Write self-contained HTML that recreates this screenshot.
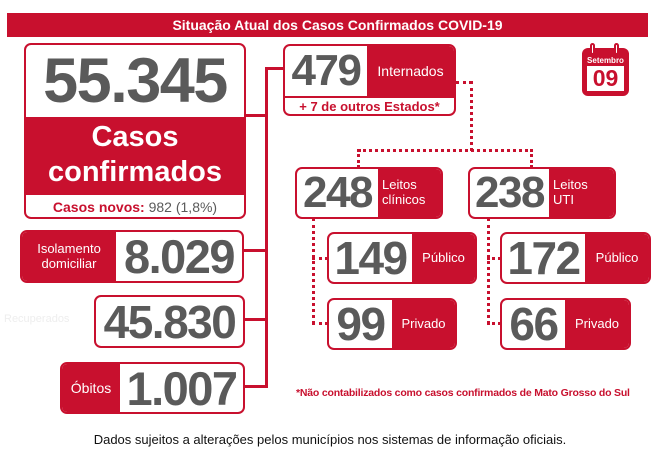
<!DOCTYPE html>
<html><head><meta charset="utf-8"><style>
body{margin:0;width:660px;height:462px;background:#fff;position:relative;overflow:hidden;font-family:"Liberation Sans",sans-serif}
.a{position:absolute;box-sizing:border-box}
.box{border:2px solid #c8102e;border-radius:7px;overflow:hidden;background:#fff}
.red{background:#c8102e;color:#fff}
.n{color:#5a5a5a;font-weight:bold;display:flex;align-items:center;justify-content:center;letter-spacing:-1.5px}
.l{color:#fff;display:flex;align-items:center;justify-content:center;text-align:center;line-height:1.15}
.ln{background:#c8102e}
.dv{border-left:3px dotted #c8102e}
.dh{border-top:3px dotted #c8102e}
</style></head><body>
<div class="a red" style="left:7px;top:13px;width:641px;height:24px;font-weight:bold;font-size:14px;display:flex;align-items:center;justify-content:center;padding-left:20px">Situação Atual dos Casos Confirmados COVID-19</div>

<div class="a box" style="left:24px;top:43px;width:222px;height:176px">
 <div class="a n" style="left:0;top:0;width:218px;height:72px;font-size:63px">55.345</div>
 <div class="a red" style="left:0;top:72px;width:218px;height:78px;font-weight:bold;font-size:29px;line-height:35px;text-align:center;padding-top:3px">Casos<br>confirmados</div>
 <div class="a" style="left:0;top:150px;width:218px;height:24px;font-size:14px;font-weight:bold;color:#c8102e;text-align:center;line-height:24px">Casos novos: <span style="color:#5a5a5a;font-weight:normal">982 (1,8%)</span></div>
</div>

<div class="a box" style="left:20px;top:230px;width:224px;height:53px">
 <div class="a red l" style="left:0;top:0;width:94px;height:49px;font-size:13px">Isolamento<br>domiciliar</div>
 <div class="a n" style="left:94px;top:0;width:126px;height:49px;font-size:47px">8.029</div>
</div>
<div class="a" style="left:4px;top:313px;font-size:11px;color:#eee">Recuperados</div>
<div class="a box" style="left:94px;top:295px;width:151px;height:53px">
 <div class="a n" style="left:0;top:0;width:147px;height:49px;font-size:46px">45.830</div>
</div>
<div class="a box" style="left:60px;top:362px;width:185px;height:52px">
 <div class="a red l" style="left:0;top:0;width:58px;height:48px;font-size:14px">Óbitos</div>
 <div class="a n" style="left:58px;top:0;width:123px;height:48px;font-size:47px">1.007</div>
</div>

<div class="a ln" style="left:265px;top:67px;width:3px;height:321px"></div>
<div class="a ln" style="left:265px;top:67px;width:19px;height:3px"></div>
<div class="a ln" style="left:245px;top:114px;width:21px;height:3px"></div>
<div class="a ln" style="left:244px;top:249px;width:22px;height:3px"></div>
<div class="a ln" style="left:245px;top:318px;width:21px;height:3px"></div>
<div class="a ln" style="left:245px;top:385px;width:21px;height:3px"></div>

<div class="a box" style="left:283px;top:44px;width:173px;height:72px">
 <div class="a n" style="left:0;top:0;width:82px;height:50px;font-size:44px">479</div>
 <div class="a red l" style="left:82px;top:0;width:87px;height:50px;font-size:14px">Internados</div>
 <div class="a" style="left:0;top:50px;width:169px;height:2px;background:#c8102e"></div>
 <div class="a" style="left:0;top:52px;width:169px;height:16px;font-size:13px;font-weight:bold;color:#c8102e;text-align:center;line-height:17px">+ 7 de outros Estados*</div>
</div>

<div class="a red" style="left:582px;top:48px;width:47px;height:48px;border-radius:6px"></div>
<div class="a" style="left:590px;top:43px;width:5px;height:12px;border:2px solid #c8102e;border-radius:3px;background:#fff"></div>
<div class="a" style="left:614px;top:43px;width:5px;height:12px;border:2px solid #c8102e;border-radius:3px;background:#fff"></div>
<div class="a" style="left:582px;top:56px;width:47px;text-align:center;color:#fff;font-weight:bold;font-size:8px">Setembro</div>
<div class="a" style="left:587px;top:66px;width:37px;height:25px;background:#fff;color:#c8102e;font-weight:bold;font-size:23px;line-height:25px;text-align:center">09</div>

<div class="a dh" style="left:456px;top:81px;width:16px"></div>
<div class="a dv" style="left:470px;top:81px;height:70px"></div>
<div class="a dh" style="left:358px;top:149px;width:175px"></div>
<div class="a dv" style="left:357px;top:149px;height:19px"></div>
<div class="a dv" style="left:530px;top:149px;height:19px"></div>
<div class="a dv" style="left:312px;top:218px;height:106px"></div>
<div class="a dh" style="left:312px;top:257px;width:16px"></div>
<div class="a dh" style="left:312px;top:322px;width:16px"></div>
<div class="a dv" style="left:487px;top:218px;height:106px"></div>
<div class="a dh" style="left:487px;top:257px;width:14px"></div>
<div class="a dh" style="left:487px;top:322px;width:14px"></div>

<div class="a box" style="left:295px;top:167px;width:148px;height:52px">
 <div class="a n" style="left:0;top:0;width:81px;height:48px;font-size:44px">248</div>
 <div class="a red l" style="left:81px;top:0;width:63px;height:48px;font-size:13px;justify-content:flex-start;text-align:left;padding-left:4px">Leitos<br>clínicos</div>
</div>
<div class="a box" style="left:468px;top:167px;width:148px;height:52px">
 <div class="a n" style="left:0;top:0;width:79px;height:48px;font-size:44px">238</div>
 <div class="a red l" style="left:79px;top:0;width:65px;height:48px;font-size:13px;justify-content:flex-start;text-align:left;padding-left:4px">Leitos<br>UTI</div>
</div>
<div class="a box" style="left:327px;top:232px;width:150px;height:52px">
 <div class="a n" style="left:0;top:0;width:83px;height:48px;font-size:46px">149</div>
 <div class="a red l" style="left:83px;top:0;width:63px;height:48px;font-size:13px">Público</div>
</div>
<div class="a box" style="left:327px;top:298px;width:130px;height:52px">
 <div class="a n" style="left:0;top:0;width:63px;height:48px;font-size:46px">99</div>
 <div class="a red l" style="left:63px;top:0;width:63px;height:48px;font-size:13px">Privado</div>
</div>
<div class="a box" style="left:500px;top:232px;width:151px;height:52px">
 <div class="a n" style="left:0;top:0;width:83px;height:48px;font-size:46px">172</div>
 <div class="a red l" style="left:83px;top:0;width:64px;height:48px;font-size:13px">Público</div>
</div>
<div class="a box" style="left:500px;top:298px;width:131px;height:52px">
 <div class="a n" style="left:0;top:0;width:63px;height:48px;font-size:46px">66</div>
 <div class="a red l" style="left:63px;top:0;width:64px;height:48px;font-size:13px">Privado</div>
</div>

<div class="a" style="left:296px;top:387px;width:336px;font-size:10.5px;font-weight:bold;color:#c8102e;white-space:nowrap;letter-spacing:-0.2px">*Não contabilizados como casos confirmados de Mato Grosso do Sul</div>
<div class="a" style="left:0;top:432px;width:660px;text-align:center;font-size:13px;color:#111">Dados sujeitos a alterações pelos municípios nos sistemas de informação oficiais.</div>
</body></html>
